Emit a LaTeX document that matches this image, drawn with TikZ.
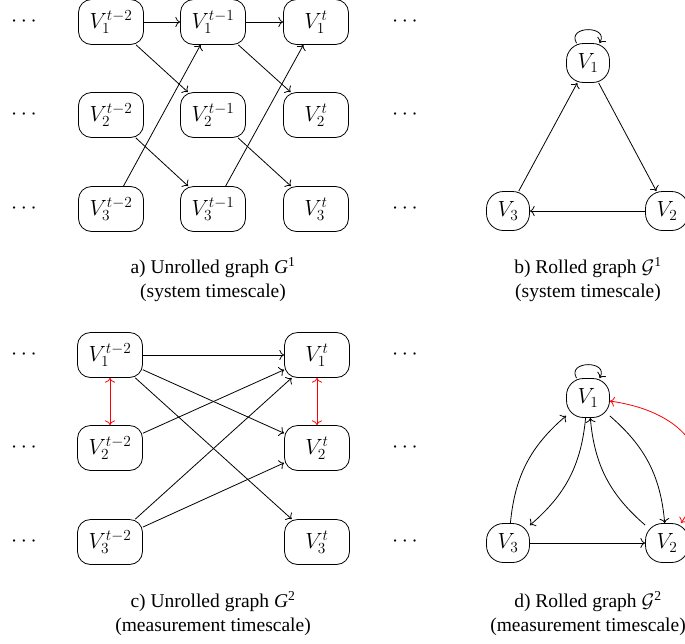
\RequirePackage{fix-cm}
\documentclass[tikz,border=0pt]{standalone}
\usepackage[no-math]{fontspec}
\setmainfont{Liberation Serif}
\usetikzlibrary{arrows.meta}
\newcommand{\nodefnt}{\fontsize{22}{26}\selectfont}
\newcommand{\capfnt}{\fontsize{19.5}{24}\selectfont}
\begin{document}
\begin{tikzpicture}[x=1pt,y=-1pt,
  >={To[scale=1.4]},
  ur/.style={draw, line width=0.8pt, rounded corners=13pt, minimum width=65pt, minimum height=45pt, inner sep=0pt, font=\nodefnt},
  rl/.style={draw, line width=0.8pt, rounded corners=17pt, minimum width=43pt, minimum height=39pt, inner sep=0pt, font=\nodefnt},
  dts/.style={font=\nodefnt, inner sep=0pt},
  captxt/.style={font=\capfnt, align=center, inner sep=0pt},
  e/.style={->, line width=0.8pt},
  selfloop/.style={->, line width=0.8pt, out=120, in=60, looseness=2.3},
  re/.style={<->, red, line width=0.8pt}]
\clip (0,0) rectangle (685,643);
% ---------- a) ----------
\foreach \r/\y in {1/22,2/115,3/209}{
  \node[dts] (al\r) at (24,\y) {$\cdots$};
  \node[dts] (ar\r) at (405,\y) {$\cdots$};
  \node[ur] (a\r a) at (111,\y) {$V_{\r}^{t-2}$};
  \node[ur] (a\r b) at (213,\y) {$V_{\r}^{t-1}$};
  \node[ur] (a\r c) at (316,\y) {$V_{\r}^{t}$};
}
\draw[e] (a1a) -- (a1b);
\draw[e] (a1b) -- (a1c);
\draw[e] (a1a) -- (a2b);
\draw[e] (a1b) -- (a2c);
\draw[e] (a2a) -- (a3b);
\draw[e] (a2b) -- (a3c);
\draw[e] (a3a) -- (a1b);
\draw[e] (a3b) -- (a1c);
\node[captxt] (capa) at (213,280) {a) Unrolled graph \textit{G}\textsuperscript{1}\\(system timescale)};
% ---------- b) ----------
\node[rl] (b1) at (588,63) {$V_1$};
\node[rl] (b2) at (667,211) {$V_2$};
\node[rl] (b3) at (508,211) {$V_3$};
\draw[e] (b1) -- (b2);
\draw[e] (b2) -- (b3);
\draw[e] (b3) -- (b1);
\draw[selfloop] (b1) to (b1);
\node[captxt] (capb) at (588,280) {b) Rolled graph $\mathcal{G}$\textsuperscript{1}\\(system timescale)};
% ---------- c) ----------
\foreach \r/\y in {1/355,2/448,3/542}{
  \node[dts] (cl\r) at (24,\y) {$\cdots$};
  \node[dts] (cr\r) at (405,\y) {$\cdots$};
  \node[ur] (c\r a) at (110,\y) {$V_{\r}^{t-2}$};
  \node[ur] (c\r c) at (317,\y) {$V_{\r}^{t}$};
}
\draw[e] (c1a) -- (c1c);
\draw[e] (c1a) -- (c2c);
\draw[e] (c1a) -- (c3c);
\draw[e] (c2a) -- (c1c);
\draw[e] (c3a) -- (c1c);
\draw[e] (c3a) -- (c2c);
\draw[re] (c1a) -- (c2a);
\draw[re] (c1c) -- (c2c);
\node[captxt] (capc) at (213,614) {c) Unrolled graph \textit{G}\textsuperscript{2}\\(measurement timescale)};
% ---------- d) ----------
\node[rl] (d1) at (588,398) {$V_1$};
\node[rl] (d2) at (667,543) {$V_2$};
\node[rl] (d3) at (508,543) {$V_3$};
\draw[e] (d1) to[bend left=22] (d2);
\draw[e] (d2) to[bend left=22] (d1);
\draw[e] (d3) to[bend left=22] (d1);
\draw[e] (d1) to[bend left=22] (d3);
\draw[e] (d3) -- (d2);
\draw[selfloop] (d1) to (d1);
\draw[re] (d1) to[out=-8, in=55, looseness=1.4] (d2);
\node[captxt] (capd) at (588,614) {d) Rolled graph $\mathcal{G}$\textsuperscript{2}\\(measurement timescale)};
\end{tikzpicture}
\end{document}
